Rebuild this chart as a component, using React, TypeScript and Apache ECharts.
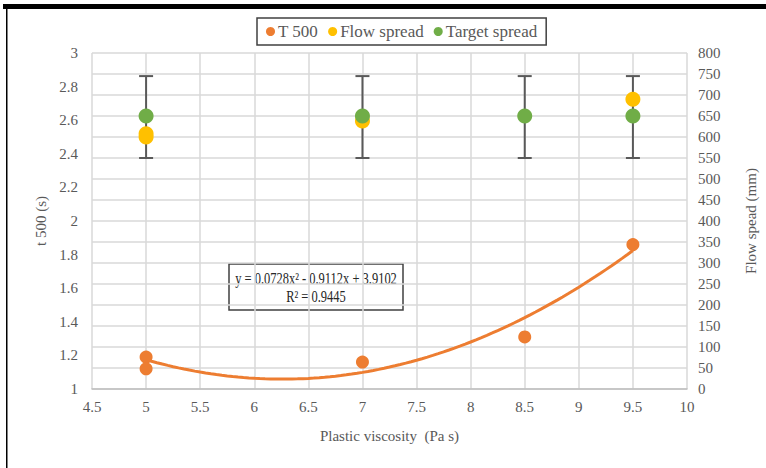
import React, { useEffect, useRef } from "react";
import * as echarts from "echarts";

// Measured mixes
const t500X = [5, 5, 7, 8.5, 9.5];
const t500Values = [1.19, 1.12, 1.16, 1.31, 1.86];
const flowX = [5, 5, 7, 9.5];
const flowSpread = [600, 608, 638, 690];
const targetX = [5, 7, 8.5, 9.5];
const targetSpread = [650, 650, 650, 650];
const targetLow = [550, 550, 550, 550];
const targetHigh = [745, 745, 745, 745];

// Polynomial trend line of t500 (a x^2 + b x + c) and its fit
const trendCoef = [0.0728, -0.9112, 3.9102];
const trendR2 = 0.9445;
const trendRange = [5, 9.5];

const FONT = "'Liberation Serif', 'Times New Roman', serif";
const LABEL = "#595959";
const GRID = "#d9d9d9";

function trendPoints(): number[][] {
  const [a, b, c] = trendCoef;
  const pts: number[][] = [];
  const steps = 90;
  for (let i = 0; i <= steps; i++) {
    const x = trendRange[0] + ((trendRange[1] - trendRange[0]) * i) / steps;
    pts.push([x, a * x * x + b * x + c]);
  }
  return pts;
}

function fmtCoef(v: number) {
  return Math.abs(v).toFixed(4);
}

export default function App() {
  const ref = useRef<HTMLDivElement>(null);

  useEffect(() => {
    if (!ref.current) return;
    const chart = echarts.init(ref.current, null, { renderer: "svg" });
    const [a, b, c] = trendCoef;
    const eq = `y = ${fmtCoef(a)}x² ${b < 0 ? "-" : "+"} ${fmtCoef(b)}x ${c < 0 ? "-" : "+"} ${fmtCoef(c)}`;

    chart.setOption({
      animation: false,
      backgroundColor: "#ffffff",
      grid: { left: 92, right: 74, top: 53, bottom: 79, containLabel: false },
      legend: {
        data: [
          { name: "T 500", itemStyle: { color: "#ED7D31" } },
          { name: "Flow spread", itemStyle: { color: "#FFC000" } },
          { name: "Target spread", itemStyle: { color: "#70AD47" } },
        ],
        left: 257,
        top: 18,
        icon: "circle",
        itemWidth: 9,
        itemHeight: 9,
        itemGap: 10,
        padding: [5, 9, 5, 9],
        borderColor: "#404040",
        borderWidth: 1.5,
        textStyle: { fontFamily: FONT, fontSize: 17, color: LABEL, padding: [0, 0, 0, -2] },
      },
      xAxis: {
        type: "value",
        min: 4.5,
        max: 10,
        interval: 0.5,
        name: "Plastic viscosity  (Pa s)",
        nameLocation: "middle",
        nameGap: 39,
        nameTextStyle: { fontFamily: FONT, fontSize: 15, color: LABEL },
        axisLine: { show: true, lineStyle: { color: "#bfbfbf", width: 1.5 } },
        axisTick: { show: false },
        axisLabel: { fontFamily: FONT, fontSize: 15, color: LABEL, margin: 10 },
        splitLine: { show: true, lineStyle: { color: GRID, width: 1.5 } },
      },
      yAxis: [
        {
          type: "value",
          min: 1,
          max: 3,
          interval: 0.2,
          name: "t 500 (s)",
          nameLocation: "middle",
          nameRotate: 90,
          nameGap: 42,
          nameTextStyle: { fontFamily: FONT, fontSize: 15, color: LABEL },
          axisLine: { show: false },
          axisTick: { show: false },
          axisLabel: {
            fontFamily: FONT,
            fontSize: 15,
            color: LABEL,
            margin: 14,
            formatter: (v: number) => String(+v.toFixed(1)),
          },
          splitLine: { show: false },
        },
        {
          type: "value",
          min: 0,
          max: 800,
          interval: 50,
          position: "right",
          name: "Flow spead (mm)",
          nameLocation: "middle",
          nameRotate: 90,
          nameGap: 56,
          nameTextStyle: { fontFamily: FONT, fontSize: 15, color: LABEL },
          axisLine: { show: false },
          axisTick: { show: false },
          axisLabel: { fontFamily: FONT, fontSize: 15, color: LABEL, margin: 11 },
          splitLine: { show: true, lineStyle: { color: GRID, width: 1.5 } },
        },
      ],
      series: [
        {
          name: "Target range",
          type: "custom",
          yAxisIndex: 1,
          data: targetX.map((x, i) => [x, targetLow[i], targetHigh[i]]),
          renderItem: (params: any, api: any) => {
            const x = api.value(0);
            const lo = api.coord([x, api.value(1)]);
            const hi = api.coord([x, api.value(2)]);
            const style = { stroke: "#595959", lineWidth: 2 };
            const cap = 7;
            return {
              type: "group",
              children: [
                { type: "line", shape: { x1: lo[0], y1: lo[1], x2: hi[0], y2: hi[1] }, style },
                { type: "line", shape: { x1: hi[0] - cap, y1: hi[1], x2: hi[0] + cap, y2: hi[1] }, style },
                { type: "line", shape: { x1: lo[0] - cap, y1: lo[1], x2: lo[0] + cap, y2: lo[1] }, style },
              ],
            };
          },
          z: 2,
        },
        {
          name: "Trend",
          type: "line",
          yAxisIndex: 0,
          data: trendPoints(),
          showSymbol: false,
          lineStyle: { color: "#ED7D31", width: 3 },
          z: 3,
        },
        {
          name: "T 500",
          type: "scatter",
          yAxisIndex: 0,
          data: t500X.map((x, i) => [x, t500Values[i]]),
          symbolSize: 13,
          itemStyle: { color: "#ED7D31", opacity: 1 },
          z: 4,
        },
        {
          name: "Flow spread",
          type: "scatter",
          yAxisIndex: 1,
          data: flowX.map((x, i) => [x, flowSpread[i]]),
          symbolSize: 15,
          itemStyle: { color: "#FFC000", opacity: 1 },
          z: 4,
        },
        {
          name: "Target spread",
          type: "scatter",
          yAxisIndex: 1,
          data: targetX.map((x, i) => [x, targetSpread[i]]),
          symbolSize: 15,
          itemStyle: { color: "#70AD47", opacity: 1 },
          z: 5,
        },
      ],
      graphic: [
        // page frame
        { type: "rect", shape: { x: 3, y: 4, width: 763, height: 5 }, style: { fill: "#000000" }, z: 10 },
        { type: "rect", shape: { x: 6, y: 9, width: 1.5, height: 459 }, style: { fill: "#000000" }, z: 10 },
        // trend equation box
        {
          type: "group",
          x: 229,
          y: 264,
          z: 20,
          children: [
            {
              type: "rect",
              shape: { x: 0, y: 0, width: 174, height: 46 },
              style: { fill: "#ffffff", stroke: "#404040", lineWidth: 1.5 },
            },
            {
              type: "text",
              x: 87,
              y: 14,
              scaleX: 0.78,
              style: { text: eq, fontFamily: FONT, fontSize: 16, fill: "#262626", align: "center", verticalAlign: "middle" },
            },
            {
              type: "text",
              x: 87,
              y: 32,
              scaleX: 0.78,
              style: { text: `R² = ${trendR2.toFixed(4)}`, fontFamily: FONT, fontSize: 16, fill: "#262626", align: "center", verticalAlign: "middle" },
            },
          ],
        },
      ],
    });
    return () => chart.dispose();
  }, []);

  return (
    <div
      ref={ref}
      style={{ position: "fixed", left: 0, top: 0, width: 766, height: 468, background: "#fff" }}
    />
  );
}
